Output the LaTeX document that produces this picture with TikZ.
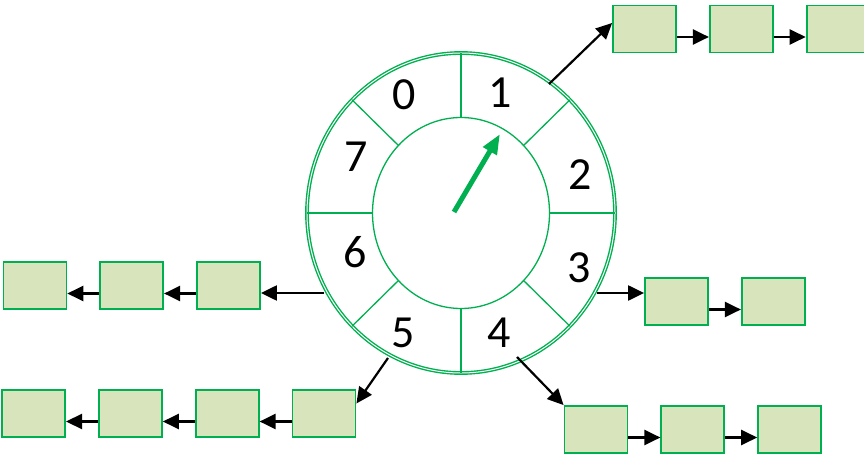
\documentclass[tikz,border=0pt]{standalone}
\usepackage{fontspec}
\setmainfont{Carlito}
\usetikzlibrary{positioning,arrows.meta}
\definecolor{wheelgreen}{HTML}{00B050}
\definecolor{bucketfill}{HTML}{D8E4BC}

\begin{document}
\begin{tikzpicture}[x=1pt,y=-1pt,
  bucket/.style={draw=wheelgreen,fill=bucketfill,line width=1.8pt,minimum width=63pt,minimum height=47pt,inner sep=0pt},
  link/.style={-{Triangle[length=16pt,width=15pt]},line width=2.2pt},
  slot/.style={inner sep=0pt,font=\fontsize{46}{46}\selectfont},
  node distance=32pt]
\useasboundingbox (0,0) rectangle (864,454);
\coordinate (hub) at (461,213);
% wheel
\draw[wheelgreen,line width=1.4pt,double=white,double distance=1pt] (hub) ellipse [x radius=154,y radius=160];
\draw[wheelgreen,line width=1.3pt] (hub) ellipse [x radius=88.5,y radius=95.5];
\foreach \a in {0,45,...,315}
  \draw[wheelgreen,line width=1.3pt] ([shift={(\a:88.5 and 95.5)}]hub) -- ([shift={(\a:154 and 160)}]hub);
\node[slot] (s0) at (404,95) {0};
\node[slot] (s1) at (500,93) {1};
\node[slot] (s2) at (580,175) {2};
\node[slot] (s3) at (579,268) {3};
\node[slot] (s4) at (499,333) {4};
\node[slot] (s5) at (403,333) {5};
\node[slot] (s6) at (355,252) {6};
\node[slot] (s7) at (356,157) {7};
\coordinate (tip) at (500,134);
\draw[wheelgreen,line width=5pt,-{Triangle[length=20pt,width=15pt]}] (454,212) -- (tip);
% lists
\node[bucket] (a1) at (644.5,29) {};
\node[bucket,right=of a1] (a2) {};
\node[bucket,right=of a2] (a3) {};
\node[bucket] (b1) at (676.5,301.5) {};
\node[bucket,right=of b1] (b2) {};
\node[bucket] (c1) at (596,429.5) {};
\node[bucket,right=of c1] (c2) {};
\node[bucket,right=of c2] (c3) {};
\node[bucket] (d1) at (324,413.5) {};
\node[bucket,left=of d1] (d2) {};
\node[bucket,left=of d2] (d3) {};
\node[bucket,left=of d3] (d4) {};
\node[bucket] (e1) at (228.5,285.5) {};
\node[bucket,left=of e1] (e2) {};
\node[bucket,left=of e2] (e3) {};
\coordinate (r1) at (549,84);
\coordinate (r3) at (597,293);
\coordinate (r4) at (517,357);
\coordinate (r5) at (388,358);
\coordinate (r6) at (324,293);
\draw[link] (r1) -- ([yshift=6pt]a1.west);
\draw[link] (r3) -- ([yshift=8.5pt]b1.west);
\draw[link] (r4) -- (c1.north west);
\draw[link] (r5) -- ([yshift=10pt]d1.east);
\draw[link] (r6) -- ([yshift=-7.5pt]e1.east);
\foreach \u/\v in {a1/a2,a2/a3,b1/b2,c1/c2,c2/c3}
  \draw[link] ([yshift=-8pt]\u.east) -- ([yshift=-8pt]\v.west);
\foreach \u/\v in {d1/d2,d2/d3,d3/d4,e1/e2,e2/e3}
  \draw[link] ([yshift=-8pt]\u.west) -- ([yshift=-8pt]\v.east);
\end{tikzpicture}
\end{document}
